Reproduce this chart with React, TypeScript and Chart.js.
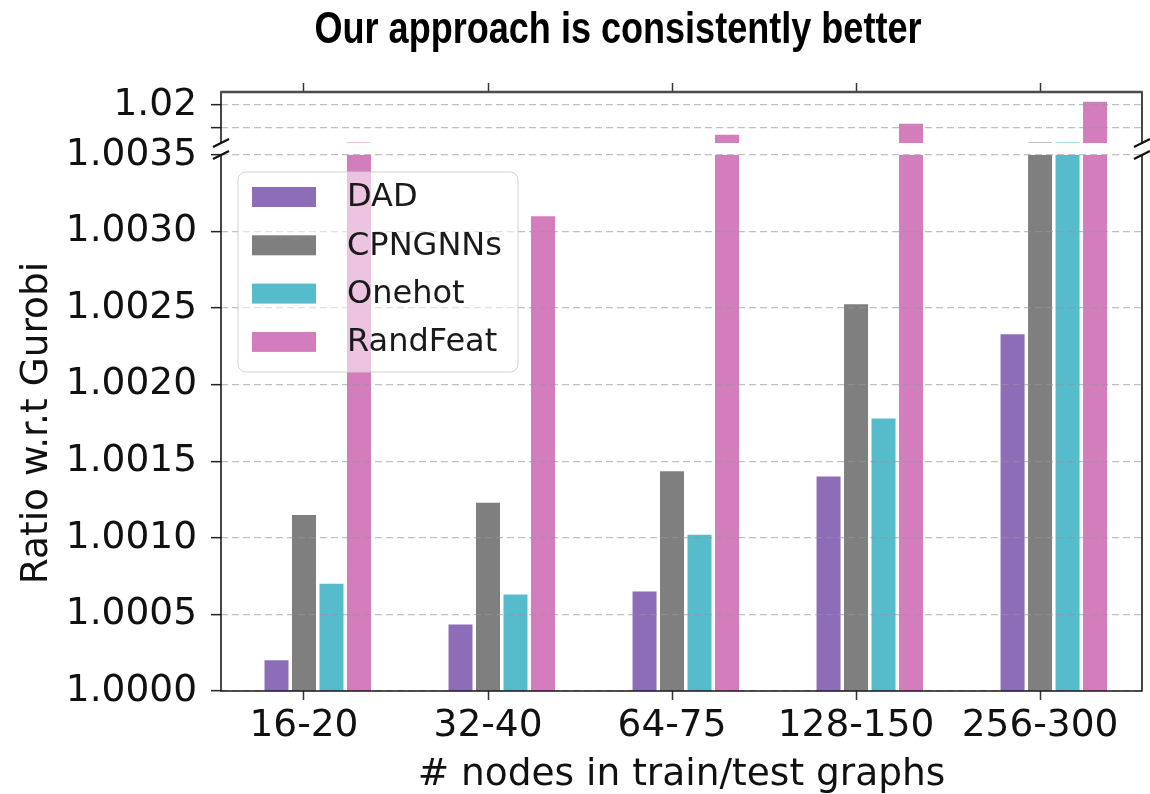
import React, { useEffect, useRef, useState } from 'react';
import { Chart, registerables } from 'chart.js';

Chart.register(...registerables);

// ---------- data ----------
const categories = ['16-20', '32-40', '64-75', '128-150', '256-300'];
const seriesNames = ['DAD', 'CPNGNNs', 'Onehot', 'RandFeat'];
const dad = [1.0002, 1.000435, 1.00065, 1.0014, 1.00233];
const cpngnns = [1.00115, 1.00123, 1.001435, 1.002525, 1.0037];
const onehot = [1.0007, 1.00063, 1.00102, 1.00178, 1.0037];
const randFeat = [1.0037, 1.0031, 1.0071, 1.0119, 1.0215];
const seriesColors = ['#8d6cb8', '#7f7f7f', '#56bccb', '#d47dbd'];

const xTicks = [0, 1, 2, 3, 4];
const lowerTicks = [1.0, 1.0005, 1.001, 1.0015, 1.002, 1.0025, 1.003, 1.0035];
const lowerTickLabels = ['1.0000', '1.0005', '1.0010', '1.0015', '1.0020', '1.0025', '1.0030', '1.0035'];
const upperTicks = [1.01, 1.02];
const upperTickLabels = ['', '1.02'];
const lowerRange = [1.0, 1.0035];
const upperRange = [1.0035, 1.0257];
const xRange = [-0.451, 4.554];

const titleText = 'Our approach is consistently better';
const xTitle = '# nodes in train/test graphs';
const yTitle = 'Ratio w.r.t Gurobi';

// ---------- styling ----------
const FONT = "'DejaVu Sans', sans-serif";
const TITLE_FONT = "'Liberation Sans', Arial, sans-serif";
const TITLE_SIZE = 44;
const TITLE_WIDTH = 607;
const TICK_SIZE = 37.5;
const AXIS_W = 221;
const RIGHT_PAD = 8;
const GRID_COLOR = 'rgba(150,150,150,0.6)';

function makeDatasets() {
  const all = [dad, cpngnns, onehot, randFeat];
  return [
    {
      label: '',
      data: [],
      backgroundColor: 'rgba(0,0,0,0)',
      borderWidth: 0,
      clip: 0,
      categoryPercentage: 0.747,
      barPercentage: 0.873,
    },
    ...all.map((vals, s) => ({
      label: seriesNames[s],
      data: vals.map((v, i) => ({ x: xTicks[i], y: v })),
      backgroundColor: seriesColors[s],
      borderWidth: 0,
      clip: 0,
      categoryPercentage: 0.747,
      barPercentage: 0.873,
    })),
  ];
}

function breakMark(ctx: CanvasRenderingContext2D, x: number, y: number) {
  ctx.beginPath();
  ctx.moveTo(x - 8, y + 4);
  ctx.lineTo(x + 8, y - 4);
  ctx.stroke();
}

const upperFrame = {
  id: 'upperFrame',
  afterDraw(chart: any) {
    const { ctx, chartArea: a } = chart;
    ctx.save();
    ctx.strokeStyle = '#1a1a1a';
    ctx.lineWidth = 1.6;
    ctx.beginPath();
    ctx.moveTo(a.left, a.top);
    ctx.lineTo(a.left, a.bottom);
    ctx.moveTo(a.right, a.top);
    ctx.lineTo(a.right, a.bottom);
    ctx.stroke();
    ctx.strokeStyle = '#4a4a4a';
    ctx.lineWidth = 2.6;
    ctx.beginPath();
    ctx.moveTo(a.left - 0.8, a.top);
    ctx.lineTo(a.right + 0.8, a.top);
    ctx.stroke();
    ctx.strokeStyle = '#111';
    ctx.lineWidth = 2.2;
    breakMark(ctx, a.left, a.bottom);
    breakMark(ctx, a.right, a.bottom);
    ctx.restore();
  },
};

const lowerFrame = {
  id: 'lowerFrame',
  afterDraw(chart: any) {
    const { ctx, chartArea: a } = chart;
    ctx.save();
    ctx.strokeStyle = '#1a1a1a';
    ctx.lineWidth = 1.6;
    ctx.beginPath();
    ctx.moveTo(a.left, a.top);
    ctx.lineTo(a.left, a.bottom);
    ctx.lineTo(a.right, a.bottom);
    ctx.lineTo(a.right, a.top);
    ctx.stroke();
    ctx.strokeStyle = '#111';
    ctx.lineWidth = 2.2;
    breakMark(ctx, a.left, a.top);
    breakMark(ctx, a.right, a.top);

    // legend
    const bx = a.left + 17;
    const by = a.top + 17;
    const bw = 280;
    const bh = 200;
    ctx.beginPath();
    (ctx as any).roundRect(bx, by, bw, bh, 8);
    ctx.fillStyle = 'rgba(255,255,255,0.55)';
    ctx.fill();
    ctx.strokeStyle = 'rgba(205,205,205,0.9)';
    ctx.lineWidth = 1;
    ctx.stroke();
    ctx.font = `32px ${FONT}`;
    ctx.textBaseline = 'middle';
    ctx.textAlign = 'left';
    seriesNames.forEach((name, i) => {
      const cy = by + 25 + i * 48.3;
      ctx.fillStyle = seriesColors[i];
      ctx.fillRect(bx + 14, cy - 10, 64, 20);
      ctx.fillStyle = '#1a1a1a';
      ctx.fillText(name, bx + 109, cy + 1);
    });
    ctx.restore();
  },
};

function xScale(position: 'top' | 'bottom', withLabels: boolean) {
  return {
    type: 'linear',
    position,
    offset: false,
    min: xRange[0],
    max: xRange[1],
    afterBuildTicks: (s: any) => {
      s.ticks = xTicks.map((v) => ({ value: v }));
    },
    afterFit: (s: any) => {
      s.height = withLabels ? 103 : 9;
      s.paddingLeft = 0;
      s.paddingRight = 0;
    },
    ticks: {
      display: withLabels,
      autoSkip: false,
      maxRotation: 0,
      padding: 3.5,
      color: '#111',
      font: { family: FONT, size: TICK_SIZE },
      callback: (_v: any, i: number) => categories[i],
    },
    grid: {
      offset: false,
      drawOnChartArea: false,
      drawTicks: true,
      tickLength: 9,
      tickColor: '#333',
      tickWidth: 1.5,
    },
    border: { display: false },
    title: withLabels
      ? {
          display: true,
          text: xTitle,
          color: '#111',
          font: { family: FONT, size: TICK_SIZE, lineHeight: 1 },
          padding: { top: 0, bottom: 0 },
        }
      : { display: false },
  };
}

function yScale(range: number[], ticks: number[], labels: string[], withTitle: boolean) {
  return {
    type: 'linear',
    position: 'left',
    min: range[0],
    max: range[1],
    afterBuildTicks: (s: any) => {
      s.ticks = ticks.map((v) => ({ value: v }));
    },
    afterFit: (s: any) => {
      s.width = AXIS_W;
      s.paddingTop = 0;
      s.paddingBottom = 0;
    },
    ticks: {
      padding: 14,
      color: '#111',
      font: { family: FONT, size: TICK_SIZE },
      callback: (_v: any, i: number) => labels[i],
    },
    grid: {
      color: GRID_COLOR,
      lineWidth: 1.3,
      tickColor: '#222',
      tickLength: 10,
      tickWidth: 1.5,
      z: 1,
    },
    border: { display: false, dash: [7, 4] },
    title: withTitle
      ? {
          display: true,
          text: yTitle,
          color: '#111',
          font: { family: FONT, size: TICK_SIZE, lineHeight: 1.2 },
          padding: { top: 14.5, bottom: 0 },
        }
      : { display: false },
  };
}

export default function App() {
  const topRef = useRef<HTMLCanvasElement>(null);
  const bottomRef = useRef<HTMLCanvasElement>(null);
  const [titleScale, setTitleScale] = useState(0.82);

  useEffect(() => {
    const c = document.createElement('canvas').getContext('2d');
    if (c) {
      c.font = `bold ${TITLE_SIZE}px ${TITLE_FONT}`;
      const w = c.measureText(titleText).width;
      if (w > 0) setTitleScale(TITLE_WIDTH / w);
    }
  }, []);

  useEffect(() => {
    Chart.defaults.font.family = FONT;
    const common = {
      animation: false,
      responsive: false,
      maintainAspectRatio: false,
      events: [],
    };
    const top = new Chart(topRef.current as HTMLCanvasElement, {
      type: 'bar',
      data: { datasets: makeDatasets() as any },
      options: {
        ...common,
        layout: { padding: { top: 83, bottom: 7, left: 0, right: RIGHT_PAD } },
        plugins: { legend: { display: false }, tooltip: { enabled: false }, title: { display: false } },
        scales: {
          x: xScale('top', false),
          y: yScale(upperRange, upperTicks, upperTickLabels, false),
        } as any,
      } as any,
      plugins: [upperFrame],
    });
    const bottom = new Chart(bottomRef.current as HTMLCanvasElement, {
      type: 'bar',
      data: { datasets: makeDatasets() as any },
      options: {
        ...common,
        layout: { padding: { top: 55, bottom: 0, left: 0, right: RIGHT_PAD } },
        plugins: { legend: { display: false }, tooltip: { enabled: false }, title: { display: false } },
        scales: {
          x: xScale('bottom', true),
          y: yScale(lowerRange, lowerTicks, lowerTickLabels, true),
        } as any,
      } as any,
      plugins: [lowerFrame],
    });
    return () => {
      top.destroy();
      bottom.destroy();
    };
  }, []);

  return (
    <div
      style={{
        position: 'absolute',
        left: 0,
        top: 0,
        width: 1150,
        height: 794,
        background: '#fff',
        overflow: 'hidden',
      }}
    >
      <canvas
        ref={bottomRef}
        width={1150}
        height={694}
        style={{ position: 'absolute', left: 0, top: 100, width: 1150, height: 694 }}
      />
      <canvas
        ref={topRef}
        width={1150}
        height={150}
        style={{ position: 'absolute', left: 0, top: 0, width: 1150, height: 150 }}
      />
      <div
        style={{
          position: 'absolute',
          left: 0,
          top: 4,
          width: 1236,
          textAlign: 'center',
          fontFamily: TITLE_FONT,
          fontWeight: 'bold',
          fontSize: TITLE_SIZE,
          lineHeight: '48px',
          color: '#000',
          whiteSpace: 'nowrap',
          transform: `scaleX(${titleScale})`,
          transformOrigin: '618px 50%',
        }}
      >
        {titleText}
      </div>
    </div>
  );
}
